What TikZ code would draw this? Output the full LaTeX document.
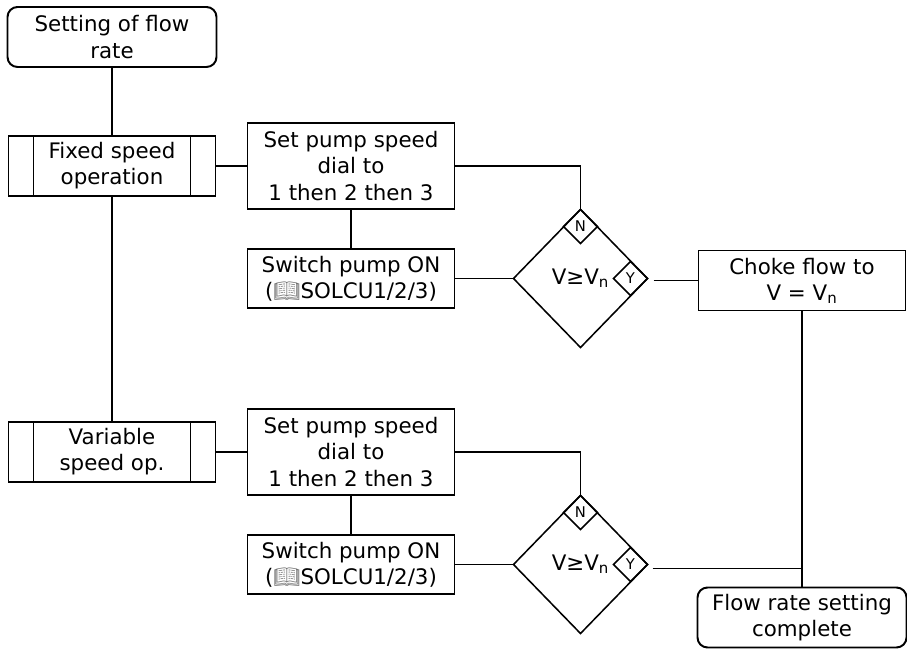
\documentclass[tikz,border=0pt]{standalone}
\usepackage{fontspec}
\setmainfont{DejaVu Sans}
\newfontfamily\bookfont{Noto Emoji}
\usepackage{tikz}
\usetikzlibrary{positioning}
\usetikzlibrary{shapes.geometric}

\newcommand{\bookmark}{{\color{black!55}\bookfont\symbol{"1F4D6}}}

\begin{document}
\begin{tikzpicture}[
            every node/.style={font=\fontsize{15.2}{18.6}\selectfont},
            link/.style={draw, line width=1.4pt},
            block/.style={
                draw,
                line width=1.4pt,
                outer sep=0pt,
                align=center,
                inner sep=0pt,
                minimum width=5.175cm,
                minimum height=1.5cm
            },
            terminal/.style={
                block,
                rounded corners=0.25cm,
                minimum width=5.225cm
            },
            subproc/.style={
                block,
                path picture={
                    \draw[line width=1.4pt] ([xshift=0.625cm]path picture bounding box.north west) -- ([xshift=0.625cm]path picture bounding box.south west);
                    \draw[line width=1.4pt] ([xshift=-0.625cm]path picture bounding box.north east) -- ([xshift=-0.625cm]path picture bounding box.south east);
                }
            },
            decision/.style={
                diamond,
                draw,
                line width=1.1pt,
                outer sep=0pt,
                inner sep=0pt,
                minimum width=3.35cm,
                minimum height=3.45cm
            },
            answer/.style={
                diamond,
                draw,
                line width=1.1pt,
                outer sep=0pt,
                inner sep=0pt,
                minimum width=0.85cm,
                minimum height=0.85cm,
                font=\fontsize{10.5}{12}\selectfont
            }
        ]
        \useasboundingbox (0,0) rectangle (22.675,-16.375);

        \node[terminal] (start) at (2.8,-0.925) {Setting of flow\\rate};

        \node[subproc, below = 1.725cm of start] (fixed) {Fixed speed\\operation};

        \node[block, right = 0.8cm of fixed, minimum height=2.15cm] (set one)
            {Set pump speed\\dial to\\1 then 2 then 3};

        \node[block, below = 1cm of set one, minimum height=1.475cm] (switch one)
            {Switch pump ON\\(\bookmark SOLCU1/2/3)};

        \node[decision, right = 1.475cm of switch one] (dec one) {V≥V\textsubscript{n}};
        \node[answer, anchor=north] (no one) at (dec one.north) {N};
        \node[answer, anchor=east] (yes one) at (dec one.east) {Y};

        \node[block, right = 1.275cm of dec one, yshift=-0.05cm] (choke)
            {Choke flow to\\V = V\textsubscript{n}};

        \node[subproc, below = 5.65cm of fixed] (variable) {Variable\\speed op.};

        \node[block, right = 0.8cm of variable, minimum height=2.15cm] (set two)
            {Set pump speed\\dial to\\1 then 2 then 3};

        \node[block, below = 1cm of set two, minimum height=1.475cm] (switch two)
            {Switch pump ON\\(\bookmark SOLCU1/2/3)};

        \node[decision, right = 1.475cm of switch two] (dec two) {V≥V\textsubscript{n}};
        \node[answer, anchor=north] (no two) at (dec two.north) {N};
        \node[answer, anchor=east] (yes two) at (dec two.east) {Y};

        \node[terminal, below = 6.925cm of choke] (done)
            {Flow rate setting\\complete};

        \coordinate[right = 0.15cm of dec one, yshift=-0.05cm] (out one);
        \coordinate[right = 0.125cm of dec two, yshift=-0.1cm] (out two);

        \draw[link] (start) -- (fixed);
        \draw[link] (fixed) -- (variable);
        \draw[link] (fixed) -- (set one);
        \draw[link] (set one) -- (switch one);
        \draw[link] (switch one) -- (dec one);
        \draw[link] (set one) -| (dec one);
        \draw[link] (out one) -- (choke);
        \draw[link] (choke) -- (done);
        \draw[link] (variable) -- (set two);
        \draw[link] (set two) -- (switch two);
        \draw[link] (switch two) -- (dec two);
        \draw[link] (set two) -| (dec two);
        \draw[link] (out two) -- (out two -| done);

    \end{tikzpicture}
\end{document}
